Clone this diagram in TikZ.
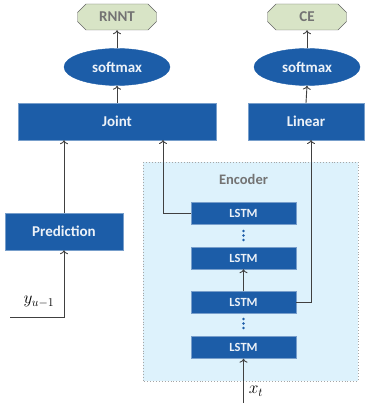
\documentclass[tikz,border=0pt]{standalone}
\usepackage{fontspec}
\setmainfont{Carlito}
\usetikzlibrary{shapes.geometric,shapes.misc,positioning,arrows.meta}
\definecolor{boxblue}{HTML}{1C5DA8}
\definecolor{lossgreen}{HTML}{D8E4C6}
\definecolor{encfill}{HTML}{DDF2FC}
\definecolor{wire}{HTML}{404040}
\begin{document}
\begin{tikzpicture}[x=1pt,y=-1pt,
	blk/.style={rectangle,fill=boxblue,draw=boxblue!60!white,text=white!92!boxblue,font=\bfseries\fontsize{15}{17}\selectfont,inner sep=0pt},
	lstm/.style={blk,minimum width=105pt,minimum height=22pt,font=\bfseries\fontsize{12.5}{14}\selectfont},
	smax/.style={ellipse,fill=boxblue,draw=boxblue,text=white!92!boxblue,font=\bfseries\fontsize{15}{17}\selectfont,minimum width=106pt,minimum height=37pt,inner sep=0pt},
	loss/.style={chamfered rectangle,chamfered rectangle xsep=4pt,chamfered rectangle ysep=4.5pt,fill=lossgreen,draw=gray!80!black,text=gray!90!black,font=\bfseries\fontsize{15}{17}\selectfont,minimum width=79pt,minimum height=26pt,inner sep=0pt},
	wireline/.style={draw=wire,line width=0.9pt},
	tip/.style={-{To[length=4pt,width=8pt]}}]
	\useasboundingbox (0,0) rectangle (365,403);
	% encoder background
	\draw[fill=encfill,draw=gray!70,dotted,line width=0.9pt] (143,162) rectangle (358,381);
	\node[text=gray!90!black,font=\bfseries\fontsize{14.5}{16}\selectfont] (enc) at (243.5,179) {Encoder};
	% top part
	\node[loss] (rnnt) at (117,17) {RNNT};
	\node[loss] (ce) at (307,17) {CE};
	\node[smax] (sm1) at (117,67) {softmax};
	\node[smax] (sm2) at (307,67) {softmax};
	\node[blk,minimum width=198pt,minimum height=37pt] (joint) at (117,121.5) {Joint};
	\node[blk,minimum width=116pt,minimum height=37pt] (lin) at (306,121.5) {Linear};
	\node[blk,minimum width=118pt,minimum height=37pt] (pred) at (64,231.5) {Prediction};
	% lstm stack
	\node[lstm] (l1) at (243.5,213) {LSTM};
	\node[lstm] (l2) at (243.5,258) {LSTM};
	\node[lstm] (l3) at (243.5,302.5) {LSTM};
	\node[lstm] (l4) at (243.5,347.5) {LSTM};
	\foreach \y in {231,235.5,240,319,323.5,328}
		\fill[boxblue] (243.5,\y) circle (1.3pt);
	% inputs
	\coordinate (yin) at (10,317);
	\coordinate (xin) at (243.5,403);
	\coordinate (jin) at (163,140);
	\coordinate (lin_in) at (311,140);
	\node[font=\fontsize{17}{19}\selectfont] (ylab) at (39,302) {$y_{u-1}$};
	\node[font=\fontsize{17}{19}\selectfont] (xlab) at (256,391) {$x_t$};
	% connectors
	\draw[wireline,tip] (sm1.north) -- (rnnt.south);
	\draw[wireline,tip] (sm2.north) -- (ce.south);
	\draw[wireline,tip] (joint.north) -- (sm1.south);
	\draw[wireline,tip] (lin.north) -- (sm2.south);
	\draw[wireline,tip] (pred.north) -- (pred.north |- joint.south);
	\draw[wireline,tip] (l1.west) -| (jin);
	\draw[wireline,tip] (l3.east) -| (lin_in);
	\draw[wireline,tip] (l3.north) -- (l2.south);
	\draw[wireline,tip] (xin) -- (l4.south);
	\draw[wireline,tip] (yin) -| (pred.south);
\end{tikzpicture}
\end{document}
